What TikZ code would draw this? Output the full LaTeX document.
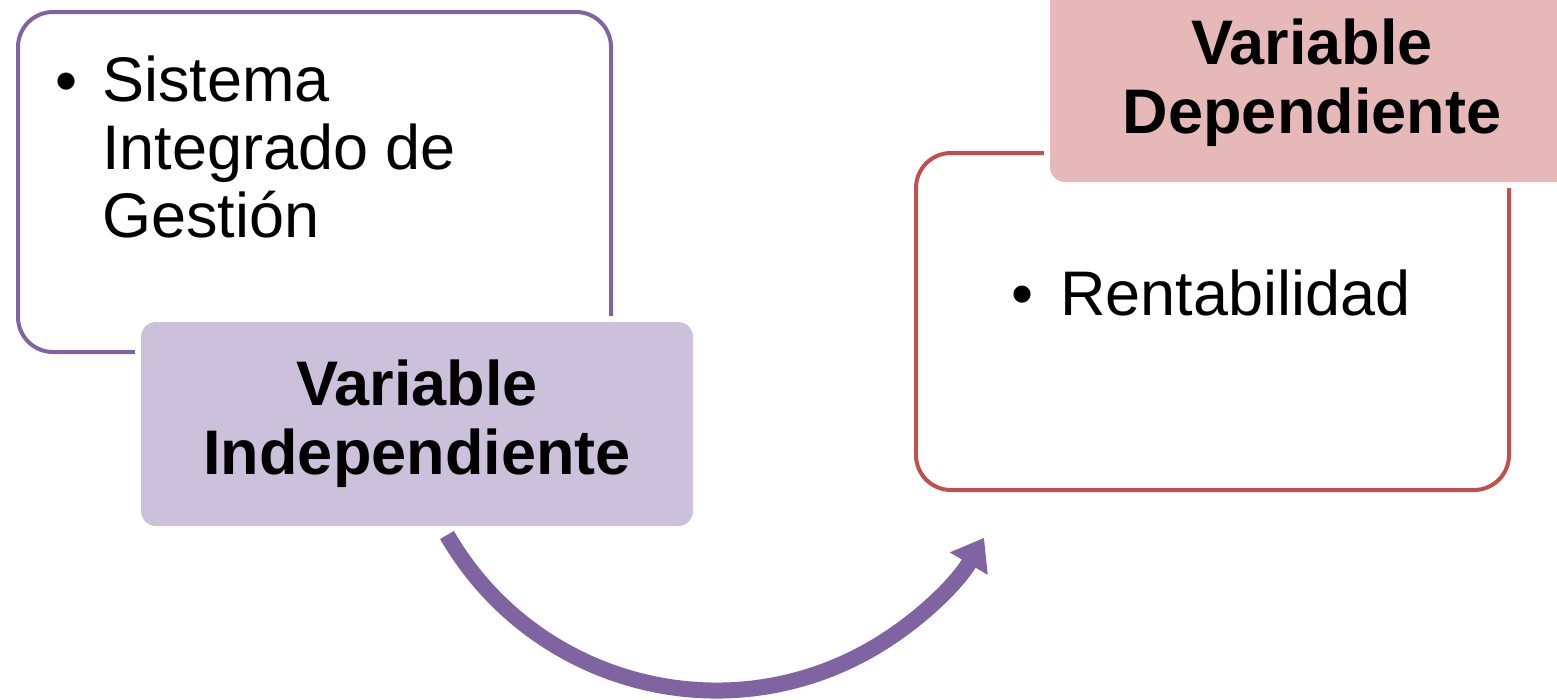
\documentclass[tikz,border=0pt]{standalone}
\usepackage{fontspec}
\setmainfont{Liberation Sans}
\usetikzlibrary{positioning,arrows.meta}
\definecolor{indepline}{HTML}{8064A2}
\definecolor{indepfill}{HTML}{CCC1DA}
\definecolor{depline}{HTML}{C0504D}
\definecolor{depfill}{HTML}{E6B9B8}
\tikzset{font=\fontsize{63}{68}\selectfont}

\begin{document}
\begin{tikzpicture}[x=1pt,y=-1pt]
	\useasboundingbox (0,0) rectangle (1557,699);
	\clip (0,0) rectangle (1557,699);
	\begin{scope}
		\tikzstyle{contentbox}=[rectangle, rounded corners=35pt, line width=4pt, fill=white, inner sep=0pt]
		\tikzstyle{labelbox}=[rectangle, rounded corners=15pt, inner sep=0pt, align=center,
			font=\fontsize{63}{69}\selectfont\bfseries, preaction={draw=white, line width=12pt}]
		\tikzstyle{every node}=[inner sep=0pt]

		% content boxes
		\node[contentbox, draw=indepline, minimum width=593, minimum height=340] (sigbox) at (314.5, 182) {};
		\node[contentbox, draw=depline, minimum width=593, minimum height=337] (rentbox) at (1212.5, 321.5) {};

		% labels
		\node[labelbox, fill=indepfill, minimum width=552, minimum height=204] (indep) at (417, 424) {Variable\\Independiente};
		\node[labelbox, fill=depfill, minimum width=524, minimum height=198] (dep) at (1312, 83) {Variable\\Dependiente};

		% bullet items
		\node[anchor=base west] (sigbullet) at (55, 102) {\textbullet};
		\node[anchor=north west, align=left] (sigtext) at (102, 56) {Sistema\\Integrado de\\Gestión};
		\node[anchor=base west] (rentbullet) at (1011, 315) {\textbullet};
		\node[anchor=base west] (renttext) at (1060, 315) {Rentabilidad};

		% curved arrow
		\coordinate (arcstart) at (447, 535);
		\draw[indepline, line width=16pt, -{Triangle[length=30pt, width=42pt]}]
			(arcstart) arc[start angle=150, end angle=30.6, radius=311];
	\end{scope}
\end{tikzpicture}
\end{document}
